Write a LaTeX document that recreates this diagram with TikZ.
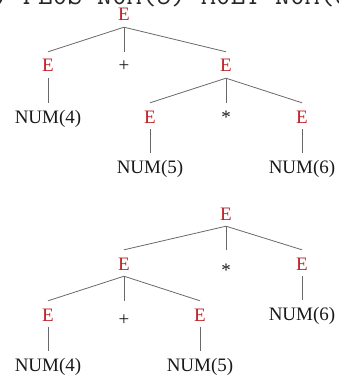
\documentclass[tikz,border=0pt]{standalone}
\usepackage{fontspec}
\setmainfont{Liberation Serif}
\definecolor{ered}{RGB}{190,30,35}
\definecolor{eline}{RGB}{105,105,105}
\begin{document}
\begin{tikzpicture}[x=1pt,y=-1pt,
  sym/.style={anchor=base, inner xsep=0pt, inner ysep=6pt, text height=14pt, text depth=0pt,
              font=\fontsize{19}{21}\selectfont, text=black!90},
  nt/.style={sym, text=ered},
  tedge/.style={draw=eline, line width=0.8pt}]
\useasboundingbox (0,0) rectangle (339,377);
\clip (0,0) rectangle (339,377);
\node[anchor=base west, inner sep=0pt, font=\ttfamily\fontsize{28.8}{30}\selectfont, text=black!85]
  (hdr) at (-81,5) {NUM(4) PLUS NUM(5) MULT NUM(6)};
% ---------- tree 1 ----------
\node[nt]  (a0) at (124,21) {E};
\node[nt]  (a1) at (48,72)  {E};
\node[sym] (a2) at (124,72) {+};
\node[nt]  (a3) at (226,72) {E};
\node[sym] (a4) at (48,123) {NUM(4)};
\node[nt]  (a5) at (150,123) {E};
\node[sym] (a6) at (226,123) {*};
\node[nt]  (a7) at (302,123) {E};
\node[sym] (a8) at (150,173) {NUM(5)};
\node[sym] (a9) at (302,173) {NUM(6)};
\draw[tedge] (a0.south) -- (a1.north);
\draw[tedge] (a0.south) -- (a2.north);
\draw[tedge] (a0.south) -- (a3.north);
\draw[tedge] (a1.south) -- (a4.north);
\draw[tedge] (a3.south) -- (a5.north);
\draw[tedge] (a3.south) -- (a6.north);
\draw[tedge] (a3.south) -- (a7.north);
\draw[tedge] (a5.south) -- (a8.north);
\draw[tedge] (a7.south) -- (a9.north);
% ---------- tree 2 ----------
\node[nt]  (b0) at (226,220) {E};
\node[nt]  (b1) at (124,270) {E};
\node[sym, text height=20pt] (b2) at (226,276) {*};
\node[nt]  (b3) at (302,270) {E};
\node[nt]  (b4) at (48,321)  {E};
\node[sym, text height=18pt] (b5) at (124,325) {+};
\node[nt]  (b6) at (200,321) {E};
\node[sym] (b7) at (302,320) {NUM(6)};
\node[sym] (b8) at (48,371)  {NUM(4)};
\node[sym] (b9) at (200,371) {NUM(5)};
\draw[tedge] (b0.south) -- (b1.north);
\draw[tedge] (b0.south) -- (b2.north);
\draw[tedge] (b0.south) -- (b3.north);
\draw[tedge] (b1.south) -- (b4.north);
\draw[tedge] (b1.south) -- (b5.north);
\draw[tedge] (b1.south) -- (b6.north);
\draw[tedge] (b3.south) -- (b7.north);
\draw[tedge] (b4.south) -- (b8.north);
\draw[tedge] (b6.south) -- (b9.north);
\end{tikzpicture}
\end{document}
